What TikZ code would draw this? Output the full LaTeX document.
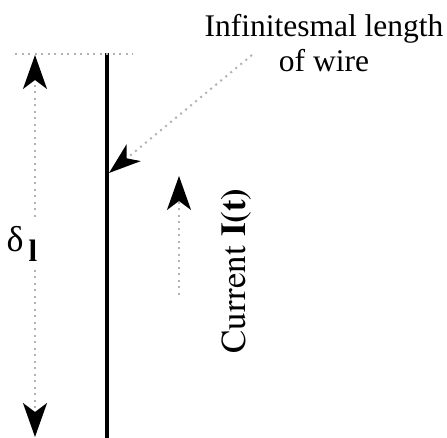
\documentclass[tikz,border=0pt]{standalone}
\usepackage{fontspec}
\usepackage{graphicx}
\setmainfont{Liberation Serif}
\newfontfamily\rotfont{TeX Gyre Termes}
\usetikzlibrary{arrows.meta}
\tikzset{
  bigtip/.tip={Stealth[length=34pt,width=24pt,inset=9pt,color=black]},
  leadtip/.tip={Stealth[length=32pt,width=22pt,inset=9pt,color=black]}
}
\begin{document}
\begin{tikzpicture}[x=1pt,y=1pt,
  dimline/.style={gray!60, line width=2pt, dash pattern=on 2pt off 4.5pt},
  wire/.style={line width=3.2pt},
  lbl/.style={font=\fontsize{31.5}{35}\selectfont, inner sep=0pt}]
\useasboundingbox (0,0) rectangle (447,438);
% wire
\coordinate (wtop) at (107,385);
\coordinate (wbot) at (107,-2);
\draw[wire] (wtop) -- (wbot);
% top reference line
\coordinate (gl) at (15,384);
\coordinate (gr) at (133,384);
\draw[dimline] (gl) -- (gr);
% dimension delta_l
\node[font=\fontsize{36}{36}\selectfont, inner sep=0pt] (delta) at (22,194) {δ\hspace{5pt}\raisebox{-10pt}{\fontsize{31}{31}\selectfont\textbf{l}}};
\coordinate (dimtop) at (35,383);
\coordinate (dimbot) at (35,1);
\coordinate (gapt) at (35,221);
\coordinate (gapb) at (35,168);
\draw[dimline, -{bigtip}] (gapt) -- (dimtop);
\draw[dimline, -{bigtip}] (gapb) -- (dimbot);
% leader to wire
\node[lbl, align=center] (infl) at (324,395) {Infinitesmal length\\of wire};
\coordinate (lead) at (252,383);
\coordinate (wmid) at (109,265);
\draw[dimline, -{leadtip}] (lead) -- (wmid);
% current
\coordinate (cbot) at (179,143);
\coordinate (ctop) at (179,262);
\draw[dimline, -{bigtip}] (cbot) -- (ctop);
\node[inner sep=0pt] (cur) at (236,167) {\rotatebox{90}{\rotfont\fontsize{35}{35}\selectfont Current \textbf{I(t)}}};
\end{tikzpicture}
\end{document}
